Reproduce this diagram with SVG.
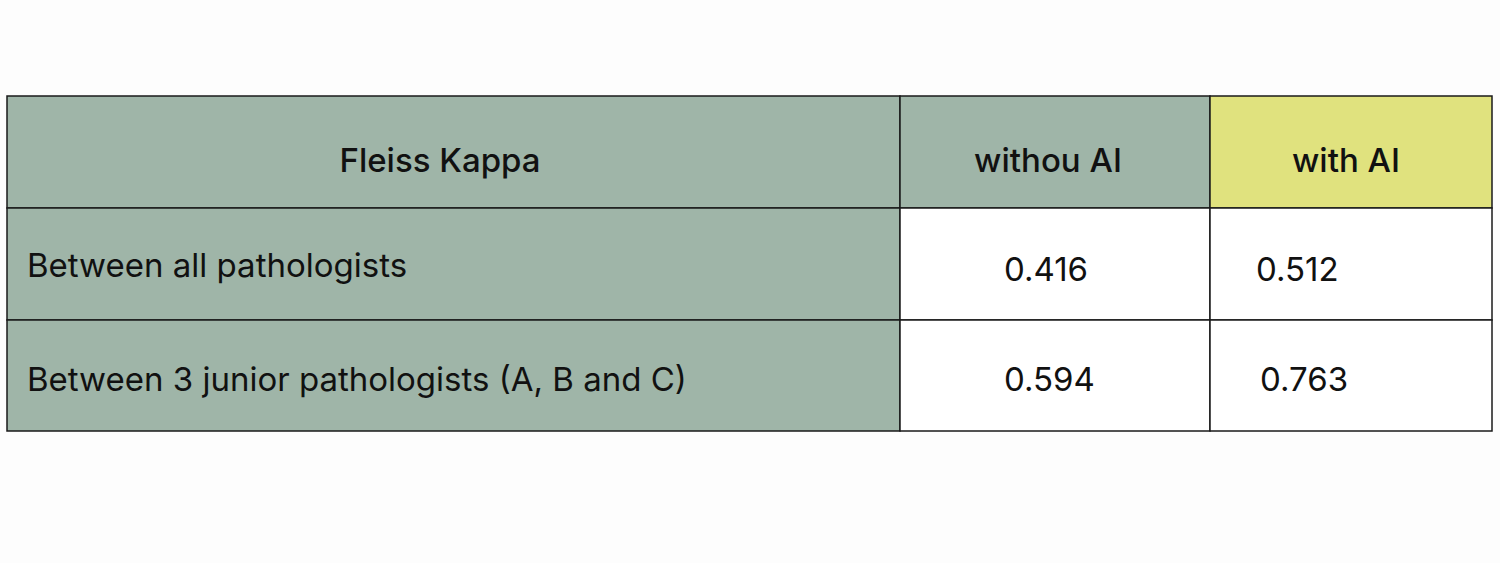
<svg xmlns="http://www.w3.org/2000/svg" width="1500" height="563" viewBox="0 0 1500 563">
<style>
.c{stroke:#1a1a1a;stroke-width:1.5}
.g{fill:#9fb5a8}
.w{fill:#ffffff}
.h{font-family:"Inter","Liberation Sans",sans-serif;font-size:33px;font-weight:500;fill:#111;text-anchor:middle}
.t{font-family:"Inter","Liberation Sans",sans-serif;font-size:33px;fill:#111}
</style>
<rect width="1500" height="563" fill="#fdfdfd"/>
<g id="header">
<rect class="c g" x="7" y="96" width="893" height="112"/>
<rect class="c g" x="900" y="96" width="310" height="112"/>
<rect class="c" fill="#e0e27e" x="1210" y="96" width="282" height="112"/>
<text class="h" x="440" y="172">Fleiss Kappa</text>
<text class="h" x="1048" y="172">withou AI</text>
<text class="h" x="1346" y="172">with AI</text>
</g>
<g id="row1">
<rect class="c g" x="7" y="208" width="893" height="112"/>
<rect class="c w" x="900" y="208" width="310" height="112"/>
<rect class="c w" x="1210" y="208" width="282" height="112"/>
<text class="t" x="27" y="277">Between all pathologists</text>
<text class="t" x="1004" y="281">0.416</text>
<text class="t" x="1256" y="281">0.512</text>
</g>
<g id="row2">
<rect class="c g" x="7" y="320" width="893" height="111"/>
<rect class="c w" x="900" y="320" width="310" height="111"/>
<rect class="c w" x="1210" y="320" width="282" height="111"/>
<text class="t" x="27" y="391">Between 3 junior pathologists (A, B and C)</text>
<text class="t" x="1004" y="391">0.594</text>
<text class="t" x="1260" y="391">0.763</text>
</g>
</svg>
